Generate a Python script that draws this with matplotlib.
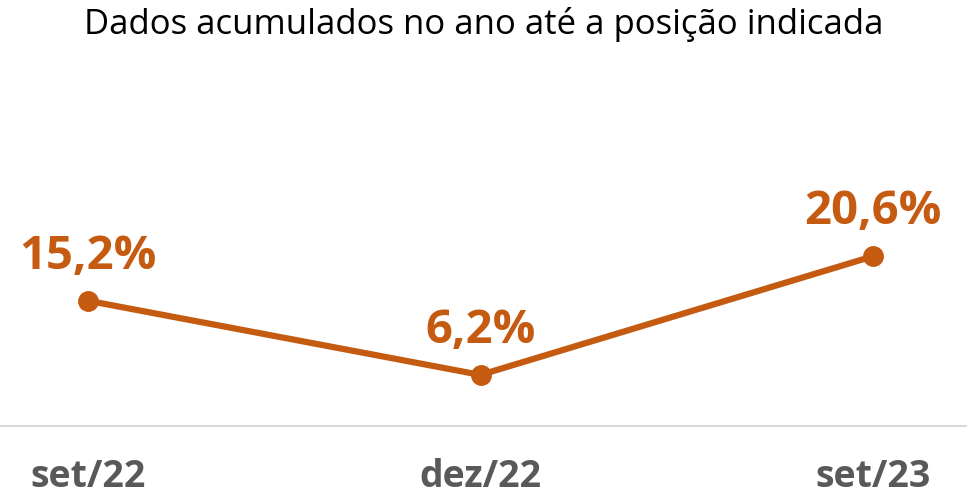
import matplotlib
matplotlib.use("Agg")
import matplotlib.pyplot as plt

categories = ["set/22", "dez/22", "set/23"]
values = [15.2, 6.2, 20.6]
labels = ["15,2%", "6,2%", "20,6%"]
title = "Dados acumulados no ano até a posição indicada"

orange = "#C55A11"
gray = "#595959"

fig = plt.figure(figsize=(9.67, 4.99), dpi=100)
W, H = 967, 499
# axes: bottom at y=426 px, x spans full width
ax = fig.add_axes([0, (H - 426) / H, 1, 206 / H])
x = list(range(len(categories)))
ax.plot(x, values, color=orange, lw=4.5, marker="o", ms=14, solid_capstyle="round", zorder=3)
ax.set_xlim(-88 / 392.5, 2 + (967 - 873) / 392.5)
ax.set_ylim(0, 25)
for s in ["top", "left", "right"]:
    ax.spines[s].set_visible(False)
ax.spines["bottom"].set_color("#D9D9D9")
ax.spines["bottom"].set_linewidth(1.5)
ax.set_yticks([])
ax.set_xticks(x)
ax.set_xticklabels(categories, fontfamily="Open Sans", fontweight="bold", fontsize=27, color=gray)
ax.tick_params(axis="x", length=0, pad=23)
for xi, v, lab in zip(x, values, labels):
    ax.annotate(lab, (xi, v), xytext=(0, 15), textcoords="offset points", ha="center", va="bottom",
                fontfamily="Open Sans", fontweight="bold", fontsize=34, color=orange)
fig.text(0.5, 1 - 24 / H, title, ha="center", va="center", fontfamily="Open Sans", fontsize=25, color="black")
fig.savefig("out.png", dpi=100, facecolor="white")
